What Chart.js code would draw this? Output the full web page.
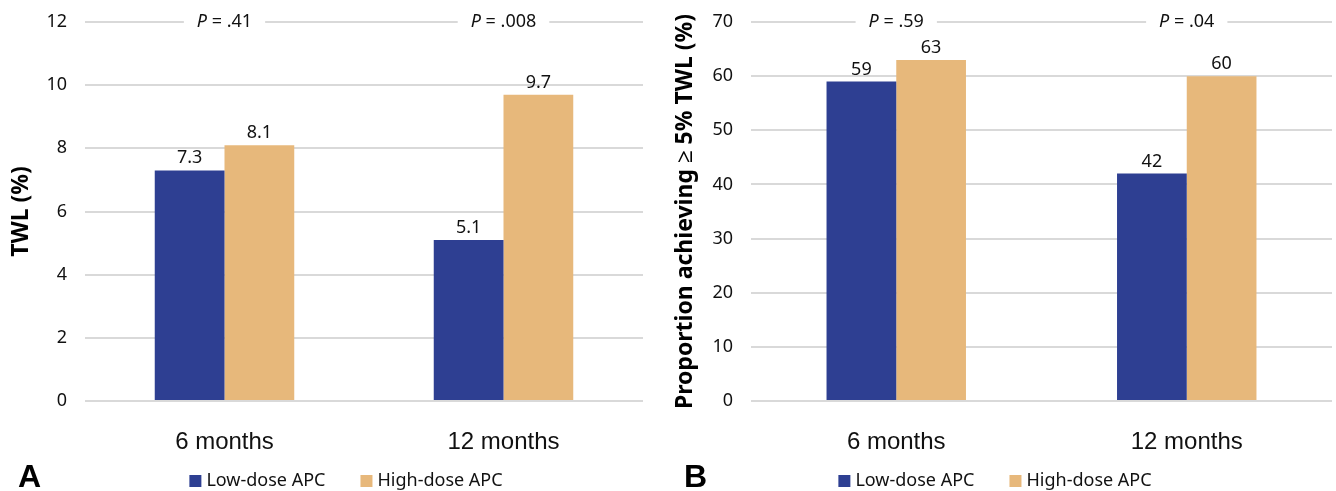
<!DOCTYPE html>
<html>
<head>
<meta charset="utf-8">
<script src="https://cdn.jsdelivr.net/npm/chart.js@4.4.0/dist/chart.umd.min.js"></script>
<style>
  body { margin: 0; background: #fff; width: 1336px; height: 491px; overflow: hidden; position: relative; }
  canvas { position: absolute; top: 0; }
  #twl { left: 0; }
  #prop { left: 660px; }
</style>
</head>
<body>
<canvas id="twl" width="660" height="491"></canvas>
<canvas id="prop" width="676" height="491"></canvas>
<script>
  const categories = ['6 months', '12 months'];
  const seriesNames = ['Low-dose APC', 'High-dose APC'];

  // panel A: total weight loss (%)
  const twlLow = [7.3, 5.1];
  const twlHigh = [8.1, 9.7];
  const twlP = ['.41', '.008'];

  // panel B: proportion achieving >= 5% TWL (%)
  const propLow = [59, 42];
  const propHigh = [63, 60];
  const propP = ['.59', '.04'];

  const BLUE = '#2e3f92';
  const ORANGE = '#e7b87b';
  const PLOT_BOTTOM = 401;
  const FONT = '"Noto Sans"';

  // value labels over bars, P values over each group, legend, panel letter
  const annotate = {
    id: 'annotate',
    afterDraw(chart, args, opts) {
      const ctx = chart.ctx;
      const x = chart.scales.x, y = chart.scales.y;
      ctx.save();
      ctx.fillStyle = '#111';
      ctx.textAlign = 'center';
      ctx.textBaseline = 'alphabetic';
      ctx.font = '18px ' + FONT;
      chart.data.datasets.forEach((ds, di) => {
        chart.getDatasetMeta(di).data.forEach((bar, i) => {
          ctx.fillText(ds.data[i], bar.x, bar.y - 7);
        });
      });

      const top = y.getPixelForValue(y.max);
      opts.pValues.forEach((p, i) => {
        const cx = x.getPixelForValue(i);
        const rest = ' = ' + p;
        ctx.font = 'italic 18px ' + FONT;
        const w1 = ctx.measureText('P').width;
        ctx.font = '18px ' + FONT;
        const w2 = ctx.measureText(rest).width;
        const left = cx - (w1 + w2) / 2;
        ctx.fillStyle = '#fff';
        ctx.fillRect(left - 13, top - 4, w1 + w2 + 26, 8);
        ctx.fillStyle = '#111';
        ctx.textAlign = 'left';
        ctx.textBaseline = 'middle';
        ctx.font = 'italic 18px ' + FONT;
        ctx.fillText('P', left, top);
        ctx.font = '18px ' + FONT;
        ctx.fillText(rest, left + w1, top);
      });

      // legend
      ctx.font = '18px ' + FONT;
      ctx.textBaseline = 'middle';
      ctx.textAlign = 'left';
      const items = chart.data.datasets.map(ds => ({ text: ds.label, color: ds.backgroundColor, w: ctx.measureText(ds.label).width }));
      const total = items.reduce((s, it) => s + 12 + 5 + it.w, 0) + 35 * (items.length - 1);
      let lx = chart.width / 2 + opts.legendShift - total / 2;
      const ly = 481;
      items.forEach(it => {
        ctx.fillStyle = it.color;
        ctx.fillRect(lx, ly - 6, 12, 12);
        ctx.fillStyle = '#111';
        ctx.fillText(it.text, lx + 17, ly);
        lx += 17 + it.w + 35;
      });

      ctx.font = 'bold 32px "Liberation Sans"';
      ctx.textBaseline = 'alphabetic';
      ctx.fillStyle = '#000';
      ctx.fillText(opts.letter, opts.letterX, 487);
      ctx.restore();
    }
  };

  function makeChart(id, low, high, pValues, max, step, title, letter, box) {
    return new Chart(document.getElementById(id), {
      type: 'bar',
      data: {
        labels: categories,
        datasets: [
          { label: seriesNames[0], data: low, backgroundColor: BLUE },
          { label: seriesNames[1], data: high, backgroundColor: ORANGE },
        ],
      },
      options: {
        responsive: false,
        animation: false,
        categoryPercentage: box.catPct,
        barPercentage: 1,
        layout: { padding: { left: box.left, right: box.right, top: 22, bottom: 0 } },
        scales: {
          x: {
            grid: { display: false },
            border: { display: false },
            ticks: { color: '#111', font: { family: '"Liberation Sans"', size: 24 }, padding: 19 },
            afterFit: s => {
              s.height = s.chart.height - PLOT_BOTTOM;
              s.paddingLeft = 0; s.paddingRight = 0;
            },
          },
          y: {
            min: 0,
            max: max,
            ticks: { stepSize: step, color: '#111', font: { family: FONT, size: 18 }, padding: 18 },
            grid: { color: '#d9d9d9', lineWidth: 2, drawTicks: false },
            border: { display: false },
            title: { display: true, text: title, color: '#000', padding: 0,
                     font: { family: FONT, size: 23, weight: 'bold' } },
            afterFit: s => {
              s.width = box.axisW;
              s.paddingTop = 0; s.paddingBottom = 0;
            },
          },
        },
        plugins: {
          legend: { display: false },
          tooltip: { enabled: false },
          annotate: { pValues: pValues, letter: letter, letterX: box.letterX, legendShift: box.legendShift },
        },
      },
      plugins: [annotate],
    });
  }

  makeChart('twl', twlLow, twlHigh, twlP, 12, 2, 'TWL (%)', 'A',
            { left: 8, right: 17, axisW: 77, catPct: 0.5, letterX: 18, legendShift: 16 });
  makeChart('prop', propLow, propHigh, propP, 70, 10, 'Proportion achieving \u2265 5% TWL (%)', 'B',
            { left: 12, right: 4, axisW: 79, catPct: 0.48, letterX: 24, legendShift: -3 });
</script>
</body>
</html>
